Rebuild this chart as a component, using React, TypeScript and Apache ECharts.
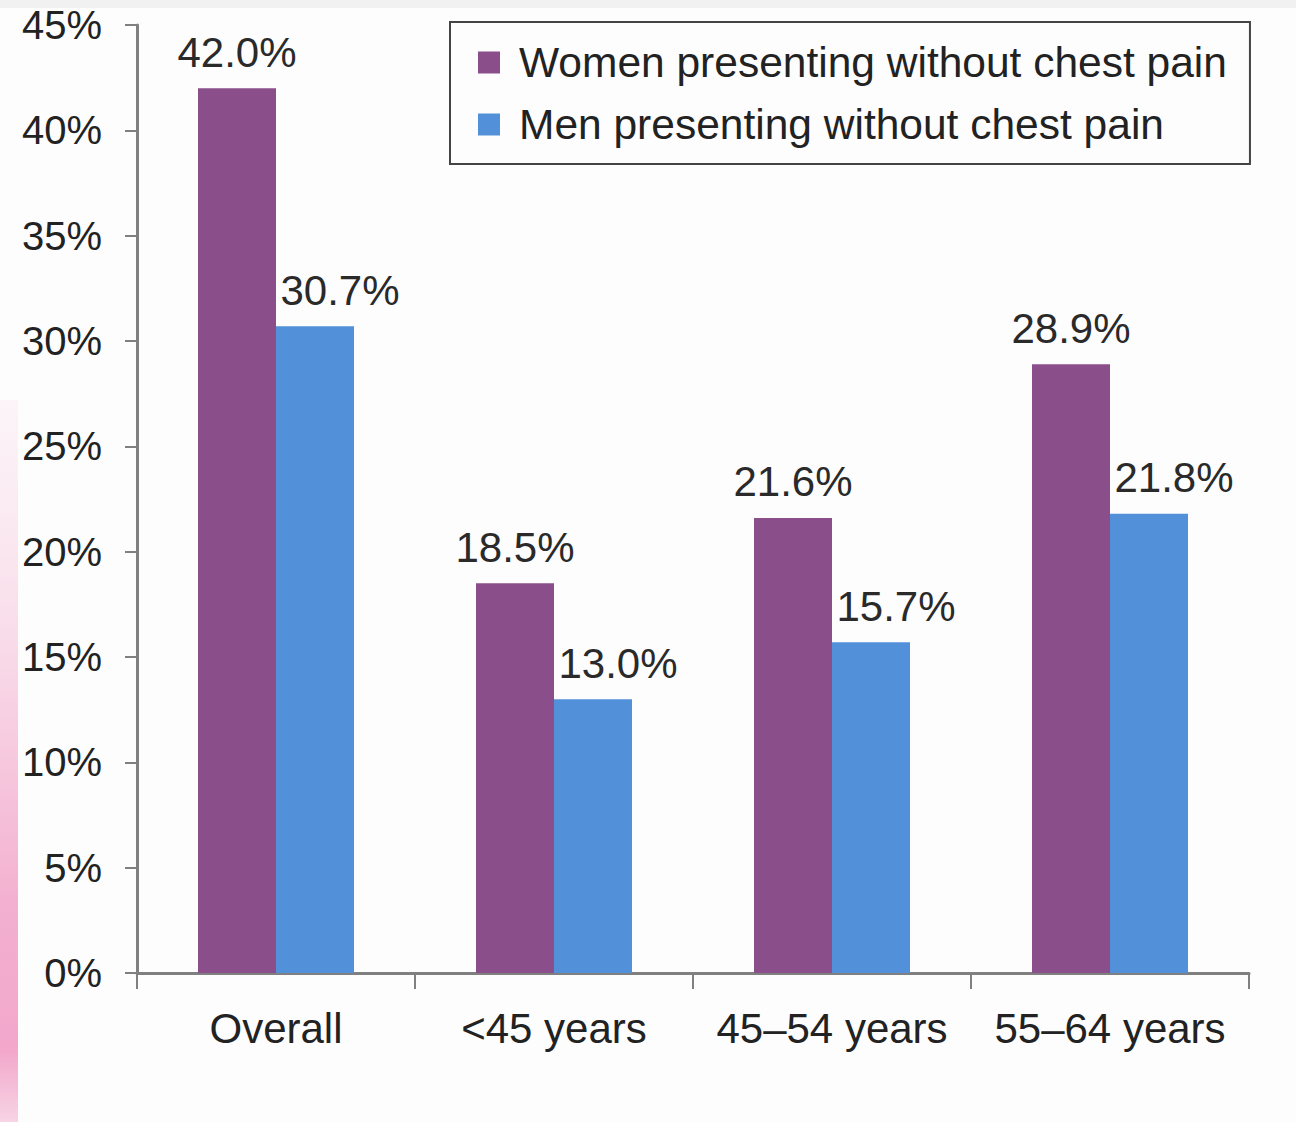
import React, { useEffect, useRef } from "react";
import * as echarts from "echarts";

const categories = ["Overall", "<45 years", "45–54 years", "55–64 years"];
const womenValues = [42.0, 18.5, 21.6, 28.9];
const menValues = [30.7, 13.0, 15.7, 21.8];
const seriesNames = ["Women presenting without chest pain", "Men presenting without chest pain"];
const yTicks = { min: 0, max: 45, interval: 5 };

const FONT = "Liberation Sans, Arial, sans-serif";

export default function App() {
  const ref = useRef<HTMLDivElement>(null);
  useEffect(() => {
    if (!ref.current) return;
    const chart = echarts.init(ref.current, undefined, { renderer: "svg" });
    const labelBase = {
      show: true,
      position: "top" as const,
      distance: 15,
      fontSize: 42,
      fontFamily: FONT,
      color: "#2a2a2a",
      formatter: (p: any) => p.value.toFixed(1) + "%",
    };
    chart.setOption({
      animation: false,
      backgroundColor: "#fdfdfd",
      textStyle: { fontFamily: FONT },
      graphic: [
        {
          type: "rect",
          left: 0,
          top: 0,
          shape: { width: 1296, height: 8 },
          style: { fill: "#f1f1f1" },
          silent: true,
        },
        {
          type: "rect",
          left: 0,
          top: 400,
          shape: { width: 18, height: 722 },
          style: {
            fill: new echarts.graphic.LinearGradient(0, 0, 0, 1, [
              { offset: 0, color: "rgba(250,235,242,0.5)" },
              { offset: 0.4, color: "#f8d4e5" },
              { offset: 0.7, color: "#f3b0d0" },
              { offset: 0.9, color: "#f2a7cb" },
              { offset: 1, color: "#f7d4e4" },
            ]),
          },
          silent: true,
        },
      ],
      grid: { left: 137, right: 47, top: 25, bottom: 149 },
      legend: {
        orient: "vertical",
        left: 450,
        top: 22,
        itemWidth: 22,
        itemHeight: 22,
        itemGap: 19,
        padding: [19, 23, 18, 28],
        borderColor: "#444",
        borderWidth: 2,
        icon: "rect",
        textStyle: { fontSize: 42.5, fontFamily: FONT, color: "#222", padding: [0, 0, 0, 14] },
        data: seriesNames,
      },
      xAxis: {
        type: "category",
        data: categories,
        axisLine: { lineStyle: { color: "#808080", width: 3 } },
        axisTick: { show: true, interval: 0, length: 16, lineStyle: { color: "#808080", width: 2 } },
        axisLabel: { interval: 0, hideOverlap: false, fontSize: 42, fontFamily: FONT, color: "#222", margin: 34 },
      },
      yAxis: {
        type: "value",
        min: yTicks.min,
        max: yTicks.max,
        interval: yTicks.interval,
        splitLine: { show: false },
        axisLine: { show: true, lineStyle: { color: "#808080", width: 3 } },
        axisTick: { show: true, length: 12, lineStyle: { color: "#808080", width: 2 } },
        axisLabel: {
          fontSize: 40,
          fontFamily: FONT,
          color: "#222",
          margin: 35,
          formatter: (v: number) => v + "%",
        },
      },
      series: [
        {
          name: seriesNames[0],
          type: "bar",
          data: womenValues,
          barWidth: 78,
          barGap: "0%",
          itemStyle: { color: "#8a4f8a" },
          label: labelBase,
        },
        {
          name: seriesNames[1],
          type: "bar",
          data: menValues,
          barWidth: 78,
          barGap: "0%",
          itemStyle: { color: "#5290d9" },
          label: { ...labelBase, offset: [25, 0] },
        },
      ],
    });
    return () => chart.dispose();
  }, []);
  return <div ref={ref} style={{ width: 1296, height: 1122, position: "absolute", left: 0, top: 0 }} />;
}
